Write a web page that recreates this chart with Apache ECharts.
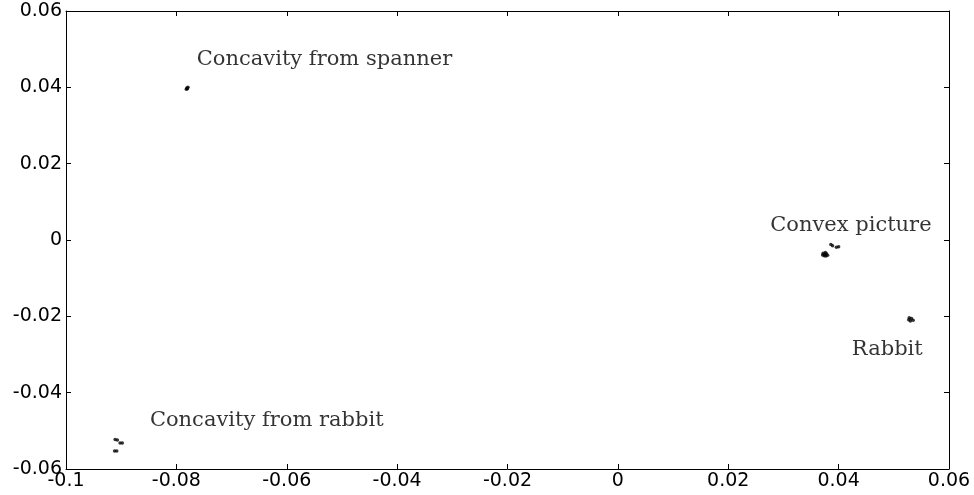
<!DOCTYPE html>
<html><head><meta charset="utf-8">
<script src="https://cdn.jsdelivr.net/npm/echarts@6/dist/echarts.min.js"></script>
<style>html,body{margin:0;padding:0;background:#fff}#c{width:974px;height:495px}</style>
</head><body><div id="c"></div>
<script>
var xTicks = [-0.1,-0.08,-0.06,-0.04,-0.02,0,0.02,0.04,0.06];
var yTicks = [-0.06,-0.04,-0.02,0,0.02,0.04,0.06];
var spanner = [[-0.0781,0.0398],[-0.0779,0.0400],[-0.0782,0.0395],[-0.0780,0.0396]];
var convex = [[0.0372,-0.0035],[0.0375,-0.0038],[0.0378,-0.0036],[0.0374,-0.0041],[0.0377,-0.0042],[0.0371,-0.0039],[0.0380,-0.0040],[0.0376,-0.0033],
              [0.0386,-0.0012],[0.0389,-0.0015],[0.0396,-0.0019],[0.0400,-0.0018]];
var rabbit = [[0.0528,-0.0204],[0.0532,-0.0206],[0.0535,-0.0210],[0.0530,-0.0212],[0.0527,-0.0209]];
var concRabbit = [[-0.0911,-0.0523],[-0.0907,-0.0524],[-0.0902,-0.0532],[-0.0898,-0.0532],[-0.0912,-0.0553],[-0.0908,-0.0553]];
var labels = [[-0.0763,0.0472,'Concavity from spanner'],[0.0276,0.0039,'Convex picture'],[0.0424,-0.0288,'Rabbit'],[-0.0848,-0.0472,'Concavity from rabbit']];

var chart = echarts.init(document.getElementById('c'));
var axisFont = {color:'#000', fontFamily:'DejaVu Sans, Liberation Sans, sans-serif', fontSize:19};
function fmt(v){ return String(Math.round(v*100)/100); }
var lineS = {onZero:false, lineStyle:{color:'#000',width:1}};
var tick = {inside:true, length:5, lineStyle:{color:'#000',width:1}};
function pts(d){ return {type:'scatter', data:d, symbol:'circle', symbolSize:3.5, itemStyle:{color:'#000'}, silent:true, animation:false}; }
chart.setOption({
  animation:false,
  grid:{left:66, right:25, top:11, bottom:26},
  xAxis:[
    {type:'value', min:-0.1, max:0.06, interval:0.02, axisLine:lineS, axisTick:tick, splitLine:{show:false},
     axisLabel:Object.assign({margin:3, formatter:fmt}, axisFont)},
    {type:'value', position:'top', min:-0.1, max:0.06, interval:0.02, axisLine:lineS, axisTick:tick, splitLine:{show:false}, axisLabel:{show:false}}
  ],
  yAxis:[
    {type:'value', min:-0.06, max:0.06, interval:0.02, axisLine:lineS, axisTick:tick, splitLine:{show:false},
     axisLabel:Object.assign({margin:4, formatter:fmt}, axisFont)},
    {type:'value', position:'right', min:-0.06, max:0.06, interval:0.02, axisLine:lineS, axisTick:tick, splitLine:{show:false}, axisLabel:{show:false}}
  ],
  series:[
    pts(spanner), pts(convex), pts(rabbit), pts(concRabbit),
    {type:'scatter', symbolSize:0, silent:true,
     data: labels.map(function(l){ return {value:[l[0],l[1]], name:l[2]}; }),
     label:{show:true, position:'right', distance:0, formatter:function(p){return p.name;},
            color:'#000', fontFamily:'DejaVu Serif, Liberation Serif, serif', fontSize:21}}
  ]
});
</script></body></html>
